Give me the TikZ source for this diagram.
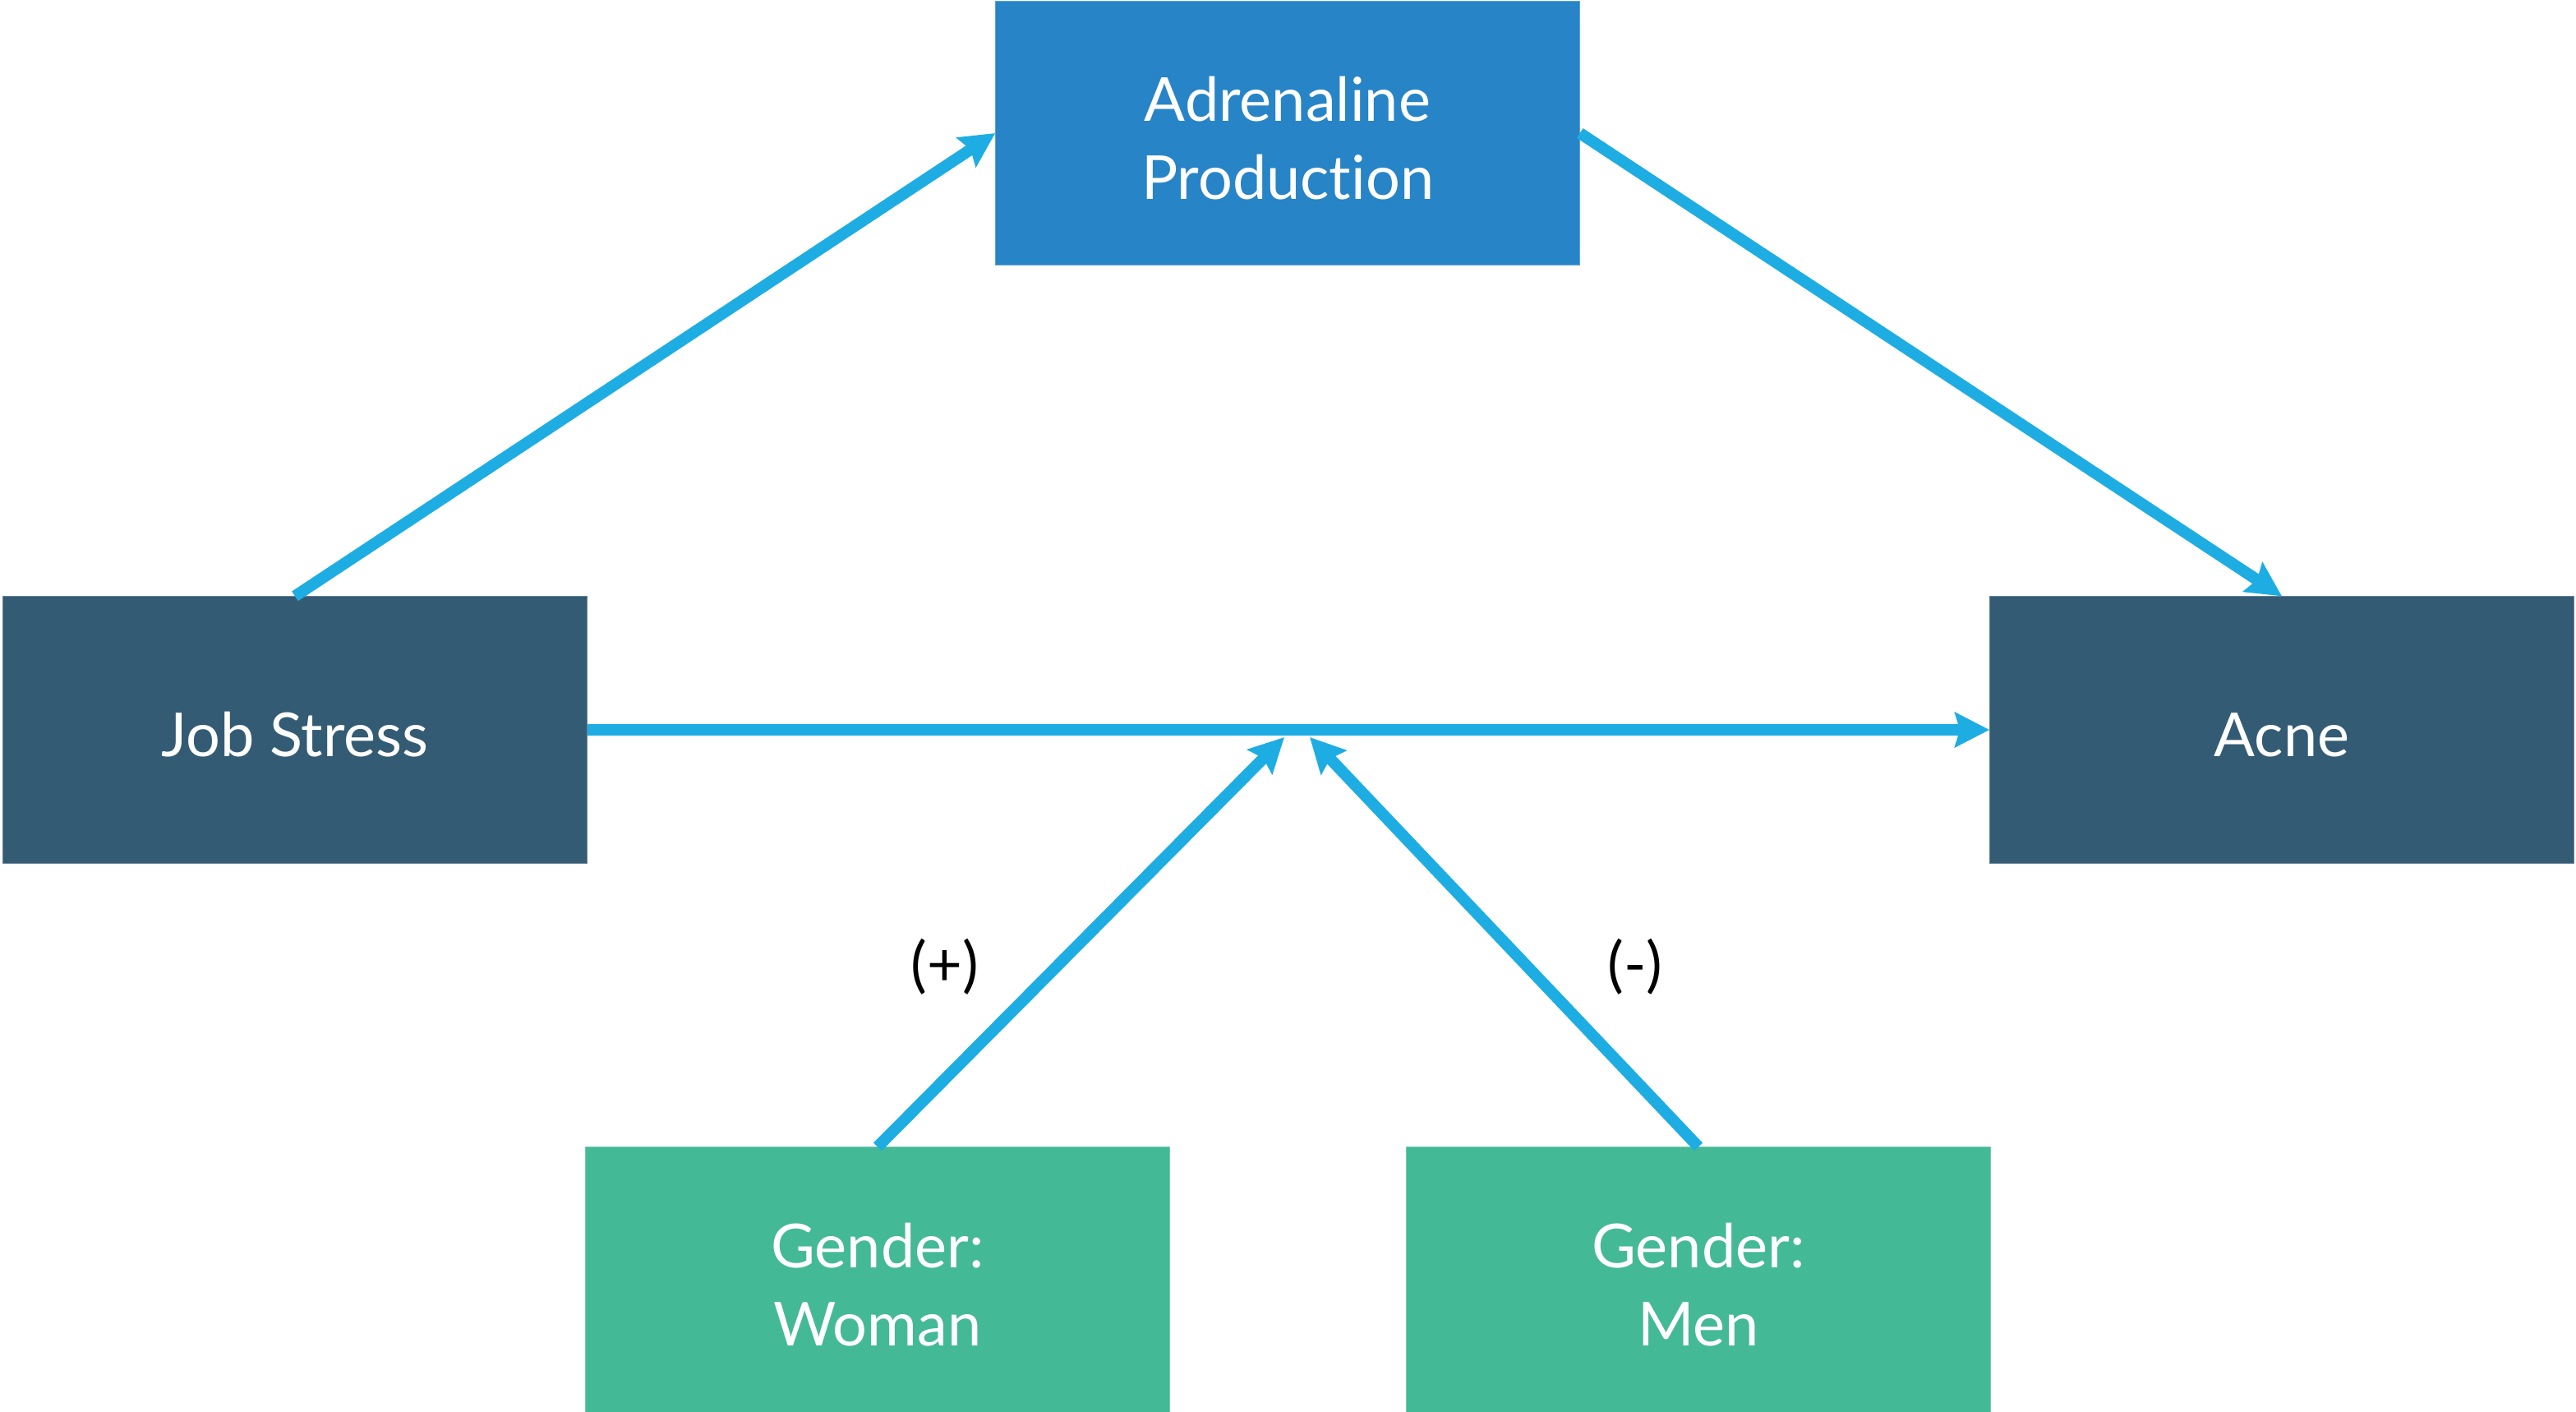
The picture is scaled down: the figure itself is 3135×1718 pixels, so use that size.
\documentclass[tikz,border=0pt]{standalone}
\usepackage{fontspec}
\setmainfont[Ligatures=NoCommon]{Lato}
\usetikzlibrary{arrows.meta}
\definecolor{cblue}{HTML}{2784C7}
\definecolor{cdark}{HTML}{345B74}
\definecolor{cgreen}{HTML}{44B996}
\definecolor{carrow}{HTML}{1EADE3}
\begin{document}
\begin{tikzpicture}[x=0.01cm,y=-0.01cm,
  box/.style={draw=#1!75!white, line width=0.3pt, fill=#1,
    minimum width=7.1cm, minimum height=3.22cm, inner sep=0pt},
  boxtext/.style={text=white, align=center, inner sep=0pt, yshift=-0.06cm,
    font=\fontsize{21}{27}\selectfont},
  conn/.style={draw=carrow, line width=0.14cm,
    -{Stealth[length=0.42cm,width=0.42cm,inset=0.06cm]}},
  sign/.style={font=\fontsize{21}{24}\selectfont, text=black}]
\useasboundingbox (0,0) rectangle (3135,1718);

\node[box=cblue, minimum height=3.2cm,
  label={[boxtext]center:Adrenaline\\Production}] (adr) at (1567,162) {};
\node[box=cdark, minimum height=3.24cm,
  label={[boxtext]center:Job Stress}] (job) at (359,888) {};
\node[box=cdark, minimum height=3.24cm,
  label={[boxtext]center:Acne}] (acne) at (2777,888) {};
\node[box=cgreen, label={[boxtext]center:Gender:\\Woman}] (woman) at (1068,1557) {};
\node[box=cgreen, label={[boxtext]center:Gender:\\Men}] (men) at (2067,1557) {};

\coordinate (mw) at (1563,897);
\coordinate (mm) at (1594,897);

\draw[conn] (job.north) -- (adr.west);
\draw[conn] (adr.east) -- (acne.north);
\draw[conn] (job.east) -- (acne.west);
\draw[conn] (woman.north) -- (mw);
\draw[conn] (men.north) -- (mm);

\node[sign] (plus) at (1150,1176) {(+)};
\node[sign] (minus) at (1990,1176) {(-)};
\end{tikzpicture}
\end{document}
